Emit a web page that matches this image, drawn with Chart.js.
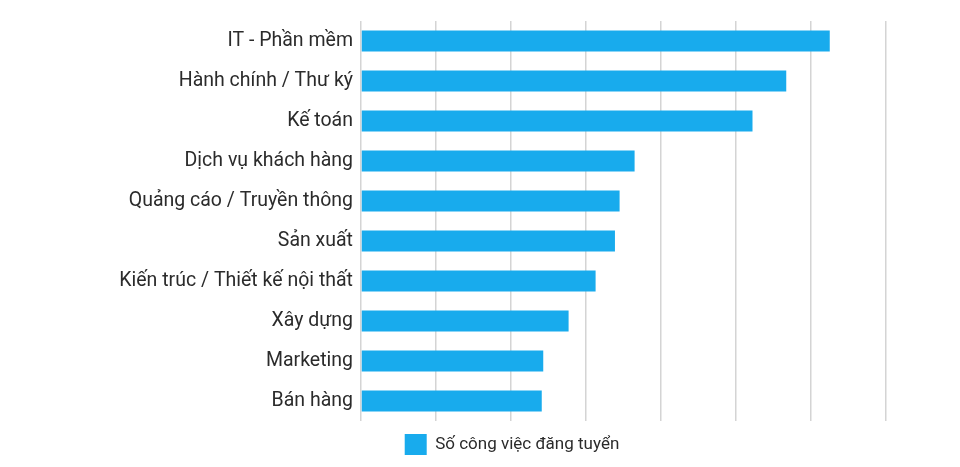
<!doctype html>
<html lang="vi">
<head>
  <meta charset="utf-8">
  <style>
    html, body { margin: 0; padding: 0; background: #fff; }
    #wrap { width: 960px; height: 467px; }
  </style>
</head>
<body>
<div id="wrap"><canvas id="chart-bar"></canvas></div>
<script src="https://cdn.jsdelivr.net/npm/chart.js@4/dist/chart.umd.min.js"></script>
<script>
  // du lieu doc tu hinh
  const categories = ['IT - Phần mềm', 'Hành chính / Thư ký', 'Kế toán', 'Dịch vụ khách hàng',
    'Quảng cáo / Truyền thông', 'Sản xuất', 'Kiến trúc / Thiết kế nội thất', 'Xây dựng', 'Marketing', 'Bán hàng'];
  const jobCounts = [3125, 2835, 2610, 1824, 1724, 1693, 1564, 1384, 1215, 1205];
  const seriesLabel = 'Số công việc đăng tuyển';
  const xTicks = [0, 500, 1000, 1500, 2000, 2500, 3000, 3500];

  // dich legend sang phai cho giong anh goc
  const legendShift = {
    id: 'legendShift',
    afterLayout(chart) {
      const lg = chart.legend;
      lg.left += 69;
      lg.right += 69;
    }
  };

  new Chart(document.getElementById('chart-bar').getContext('2d'), {
    type: 'bar',
    data: {
      labels: categories,
      datasets: [{
        label: seriesLabel,
        data: jobCounts,
        backgroundColor: '#18abed',
        borderWidth: 0,
        barPercentage: 0.525,
        categoryPercentage: 1
      }]
    },
    options: {
      indexAxis: 'y',
      responsive: true,
      maintainAspectRatio: false,
      animation: false,
      layout: { padding: { top: 21, right: 74, left: 0, bottom: 2 } },
      scales: {
        x: {
          min: xTicks[0],
          max: xTicks[xTicks.length - 1],
          afterBuildTicks(scale) { scale.ticks = xTicks.map(v => ({ value: v })); },
          afterFit(scale) { scale.height = 5; },
          ticks: { display: false },
          border: { display: false },
          grid: { color: '#d4d4d4', lineWidth: 1.5, drawTicks: false }
        },
        y: {
          afterFit(scale) { scale.width = 361; },
          grid: { display: false },
          border: { display: false },
          ticks: {
            padding: 0,
            color: '#2b2b2b',
            font: { family: 'Roboto', size: 19.5 }
          }
        }
      },
      plugins: {
        legend: {
          position: 'bottom',
          labels: {
            boxWidth: 22,
            boxHeight: 21,
            padding: 8,
            color: '#2b2b2b',
            font: { family: 'Roboto', size: 17 }
          }
        },
        tooltip: { enabled: false }
      }
    },
    plugins: [legendShift]
  });
</script>
</body>
</html>
